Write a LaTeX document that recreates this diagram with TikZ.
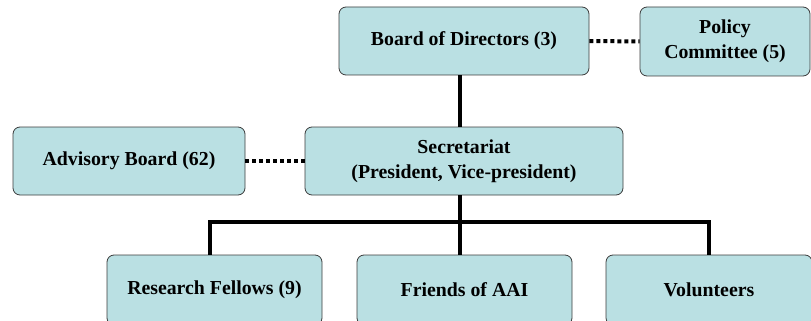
\documentclass[tikz,border=0pt]{standalone}
\usepackage{fontspec}
\setmainfont{Liberation Serif}
\definecolor{boxfill}{RGB}{186,224,227}
\definecolor{boxdraw}{RGB}{60,60,60}
\begin{document}
\begin{tikzpicture}[x=1pt,y=-1pt,
  box/.style={draw=boxdraw,fill=boxfill,rounded corners=7pt,line width=0.8pt,
    font=\bfseries\fontsize{19.8}{25}\selectfont,align=center,inner sep=0pt},
  solidline/.style={line width=3.6pt},
  dotline/.style={line width=4pt,dash pattern=on 4pt off 3pt}]
\useasboundingbox (0,0) rectangle (811,321);
\clip (0,0) rectangle (811,321);
\node[box,minimum width=250pt,minimum height=68pt] (bod) at (464,41) {Board of Directors (3)};
\node[box,minimum width=170pt,minimum height=69pt] (pol) at (725,41.5) {Policy\\Committee (5)};
\node[box,minimum width=232pt,minimum height=68pt] (adv) at (129,161) {Advisory Board (62)};
\node[box,minimum width=318pt,minimum height=68pt] (sec) at (464,161) {Secretariat\\(President, Vice-president)};
\node[box,minimum width=215pt,minimum height=70pt] (rf) at (214.5,290) {Research Fellows (9)};
\node[box,minimum width=215pt,minimum height=70pt] (fr) at (464.5,290) {Friends of AAI};
\node[box,minimum width=206pt,minimum height=70pt] (vol) at (709,290) {Volunteers};
\coordinate (hub) at (460,222);
\draw[dotline] (bod.east) -- (pol.west);
\draw[dotline] (adv.east) -- (sec.west);
\draw[solidline] (bod.south -| hub) -- (sec.north -| hub);
\draw[solidline] (sec.south -| hub) -- (fr.north -| hub);
\draw[solidline] ([xshift=-4.5pt]rf.north) |- (hub) -| (vol.north);
\end{tikzpicture}
\end{document}
